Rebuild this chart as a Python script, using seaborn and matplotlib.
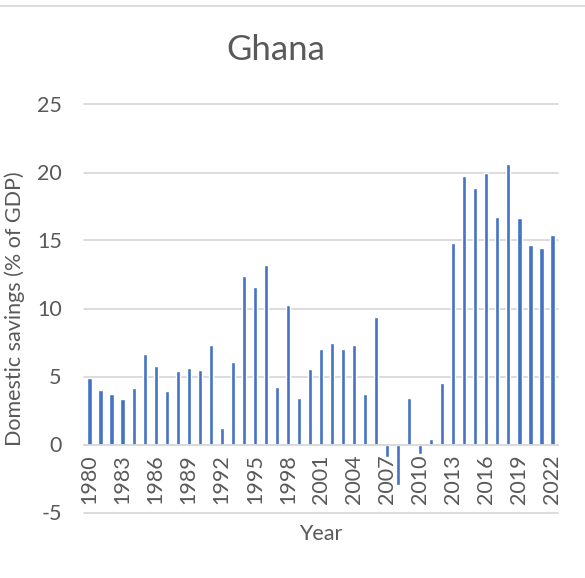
import matplotlib
matplotlib.use("Agg")
import matplotlib.pyplot as plt
import seaborn as sns
import pandas as pd
from matplotlib.lines import Line2D

# Gross domestic savings, Ghana (% of GDP)
years = list(range(1980, 2023))
savings = [4.91, 4.00, 3.71, 3.31, 4.12, 6.63, 5.77, 3.90, 5.40, 5.60,
           5.45, 7.29, 1.23, 6.04, 12.42, 11.58, 13.20, 4.22, 10.24, 3.44,
           5.55, 7.02, 7.44, 7.00, 7.29, 3.71, 9.35, -0.91, -3.00, 3.39,
           -0.69, 0.39, 4.52, 14.80, 19.76, 18.83, 19.96, 16.74, 20.64, 16.69,
           14.68, 14.43, 15.41]
y_ticks = [-5, 0, 5, 10, 15, 20, 25]

title = "Ghana"
x_label = "Year"
y_label = "Domestic savings (% of GDP)"

df = pd.DataFrame({"year": [str(y) for y in years], "savings": savings})

sns.set_theme(style="white")
plt.rcParams["font.family"] = ["Lato", "DejaVu Sans"]

text_color = "#595959"
grid_color = "#D9D9D9"
bar_color = "#4472C4"

fig = plt.figure(figsize=(5.85, 5.78), dpi=100)
ax = fig.add_axes([84 / 585, 1 - 512.5 / 578, (558 - 84) / 585, (512.5 - 104.5) / 578])

sns.barplot(data=df, x="year", y="savings", color=bar_color, width=0.38,
            saturation=1, ax=ax)

ax.set_xlim(-0.5, len(years) - 0.5)
ax.set_ylim(-5, 25)
ax.set_yticks(y_ticks)
ax.set_yticklabels([str(t) for t in y_ticks])
ax.yaxis.grid(True, color=grid_color, linewidth=1.3)
for gl in ax.get_ygridlines():
    gl.set_clip_on(False)
ax.set_axisbelow(True)

# category axis runs along the zero line
for side in ("top", "right", "left"):
    ax.spines[side].set_visible(False)
ax.spines["bottom"].set_position(("data", 0))
ax.spines["bottom"].set_color(grid_color)
ax.spines["bottom"].set_linewidth(1.3)

idx = list(range(0, len(years), 3))
ax.set_xticks(idx)
ax.set_xticklabels([str(years[i]) for i in idx], rotation=90, va="top", ha="center")
ax.tick_params(axis="x", length=0, pad=7, labelsize=15.5, labelcolor=text_color)
ax.tick_params(axis="y", length=0, pad=16, labelsize=15.5, labelcolor=text_color)

ax.set_xlabel(x_label, fontsize=15.5, color=text_color)
ax.xaxis.set_label_coords(0.5, -(533.5 - 512.5) / 408)
ax.xaxis.label.set_va("center")
ax.set_ylabel(y_label, fontsize=15.5, color=text_color)
ax.yaxis.set_label_coords(-(84 - 15) / 474, 0.5)
ax.yaxis.label.set_va("center")

fig.text(276 / 585, 1 - 50 / 578, title, ha="center", va="center",
         fontsize=25, color=text_color)

# thin chart-area border at the top
fig.add_artist(Line2D([0, 1], [1 - 6 / 578, 1 - 6 / 578], transform=fig.transFigure,
                      color=grid_color, linewidth=1.3))

fig.savefig("out.png", dpi=100)
